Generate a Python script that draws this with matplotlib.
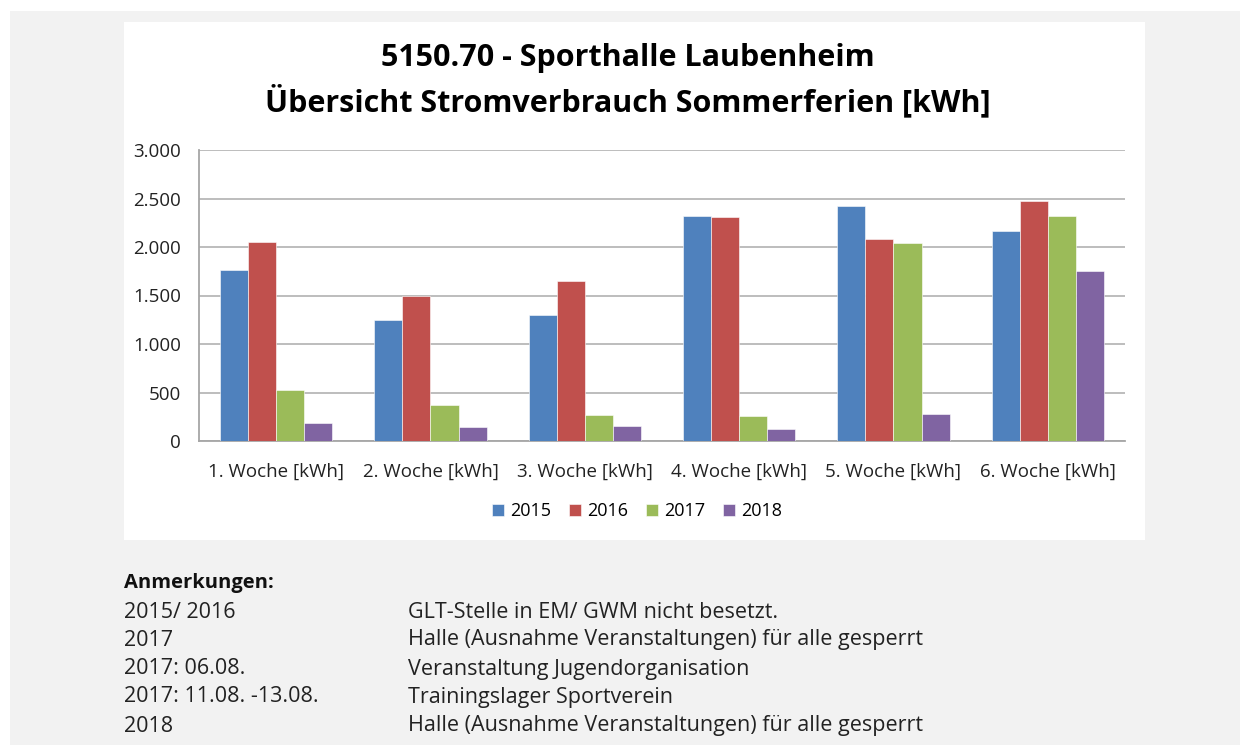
import matplotlib
matplotlib.use('Agg')
import matplotlib.pyplot as plt
from matplotlib.patches import Rectangle
import numpy as np

# Stromverbrauch Sommerferien, Sporthalle Laubenheim
weeks = ['1. Woche [kWh]', '2. Woche [kWh]', '3. Woche [kWh]',
         '4. Woche [kWh]', '5. Woche [kWh]', '6. Woche [kWh]']
years = ['2015', '2016', '2017', '2018']
v2015 = [1763, 1247, 1299, 2320, 2426, 2168]
v2016 = [2055, 1498, 1649, 2309, 2079, 2471]
v2017 = [526, 371, 268, 258, 2038, 2316]
v2018 = [182, 144, 155, 124, 275, 1749]
colors = ['#4F81BD', '#C0504D', '#9BBB59', '#8064A2']

notes_left = ['2015/ 2016', '2017', '2017: 06.08.', '2017: 11.08. -13.08.', '2018']
notes_right = ['GLT-Stelle in EM/ GWM nicht besetzt.',
               'Halle (Ausnahme Veranstaltungen) für alle gesperrt',
               'Veranstaltung Jugendorganisation',
               'Trainingslager Sportverein',
               'Halle (Ausnahme Veranstaltungen) für alle gesperrt']

plt.rcParams['font.family'] = ['Open Sans', 'DejaVu Sans']

W, H = 1240, 745
fig = plt.figure(figsize=(W / 100, H / 100), dpi=100)
fig.patch.set_facecolor('white')

# gray page panel and white chart box
fig.add_artist(Rectangle((10 / W, 0), 1, 1 - 11 / H, transform=fig.transFigure,
                         facecolor='#f2f2f2', edgecolor='none', zorder=0))
fig.add_artist(Rectangle((124 / W, 1 - 540 / H), (1145 - 124) / W, (540 - 22) / H,
                         transform=fig.transFigure, facecolor='white',
                         edgecolor='none', zorder=0))

ax = fig.add_axes([199 / W, 1 - 441 / H, (1125 - 199) / W, (441 - 150) / H])
ax.set_facecolor('white')

x = np.arange(len(weeks))
bw = 1 / 5.5
series = [v2015, v2016, v2017, v2018]
for i, vals in enumerate(series):
    ax.bar(x + (i - 1.5) * bw, vals, bw, color=colors[i], label=years[i],
           edgecolor='white', linewidth=0.4, zorder=3)

ax.set_xlim(-0.5, len(weeks) - 0.5)
ax.set_ylim(0, 3000)
ax.set_yticks(range(0, 3001, 500))
ax.set_yticklabels(['0', '500', '1.000', '1.500', '2.000', '2.500', '3.000'])
ax.set_xticks(x)
ax.set_xticklabels(weeks)
ax.tick_params(axis='both', length=0, labelsize=13.5, colors='#222222')
ax.tick_params(axis='y', pad=13)
ax.tick_params(axis='x', pad=16)
ax.grid(axis='y', color='#b8b8b8', linewidth=1.3, zorder=0)
for s in ['top', 'right']:
    ax.spines[s].set_visible(False)
for s in ['left', 'bottom']:
    ax.spines[s].set_color('#a6a6a6')
    ax.spines[s].set_linewidth(1.3)

fig.text(0.5065, 1 - 58 / H, '5150.70 - Sporthalle Laubenheim', ha='center', va='center',
         fontsize=22, fontweight='bold', color='black')
fig.text(0.5065, 1 - 102 / H, 'Übersicht Stromverbrauch Sommerferien [kWh]', ha='center',
         va='center', fontsize=22, fontweight='bold', color='black')

ax.legend(loc='center', bbox_to_anchor=(637 / W, 1 - 511 / H),
          bbox_transform=fig.transFigure, ncol=4, frameon=False, fontsize=13,
          handlelength=0.65, handleheight=0.65, handletextpad=0.35, columnspacing=1.0)

fig.text(124 / W, 1 - 583 / H, 'Anmerkungen:', ha='left', va='center',
         fontsize=14.5, fontweight='bold', color='#111111')
row_y = [612, 640, 669, 697, 726]
for yy, l, r in zip(row_y, notes_left, notes_right):
    fig.text(124 / W, 1 - yy / H, l, ha='left', va='center', fontsize=15.5, color='#222222')
    fig.text(408 / W, 1 - yy / H, r, ha='left', va='center', fontsize=15.5, color='#222222')

fig.savefig('out.png', dpi=100)
